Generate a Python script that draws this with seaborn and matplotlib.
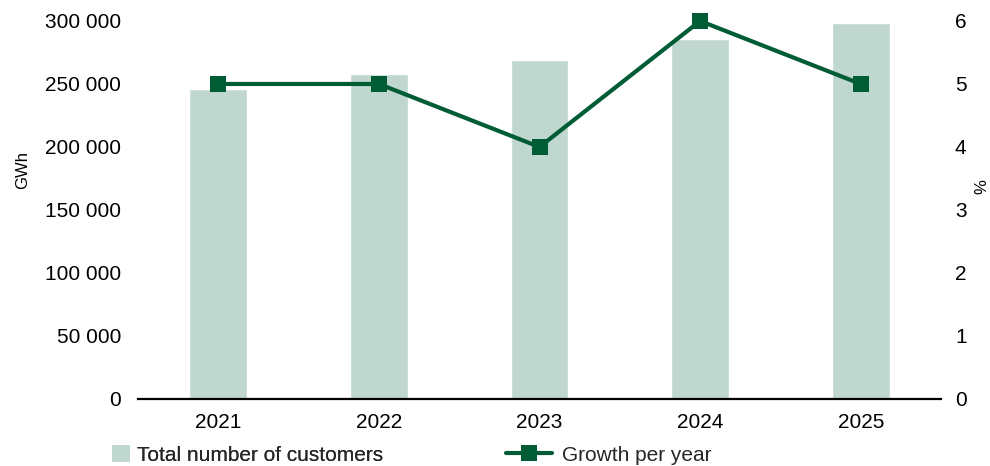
import matplotlib
matplotlib.use("Agg")
import matplotlib.pyplot as plt
import matplotlib.ticker as mticker
from matplotlib.patches import Patch
from matplotlib.lines import Line2D
import numpy as np
import pandas as pd
import seaborn as sns

years = [2021, 2022, 2023, 2024, 2025]
customers = [246000, 258000, 269000, 285500, 298000]
growth = [5, 5, 4, 6, 5]
left_ticks = [0, 50000, 100000, 150000, 200000, 250000, 300000]
right_ticks = [0, 1, 2, 3, 4, 5, 6]

bar_color = "#BFD7CE"
line_color = "#005C35"
fs = 15
title_fs = 12

sns.set_theme(style="white")
plt.rcParams["font.family"] = ["Liberation Sans", "DejaVu Sans"]

df = pd.DataFrame({"year": years, "customers": customers, "growth": growth})

fig = plt.figure(figsize=(9.9, 4.66), dpi=100)
ax = fig.add_axes([0.1394, 0.1438, 0.8111, 0.8112])

sns.barplot(data=df, x="year", y="customers", native_scale=True, width=0.36,
            color=bar_color, saturation=1, ax=ax)
ax.set_xlim(2020.5, 2025.5)
ax.set_ylim(0, 300000)
ax.set_yticks(left_ticks)
ax.yaxis.set_major_formatter(mticker.FuncFormatter(
    lambda v, p: f"{int(v):,}".replace(",", " ")))
ax.set_xticks(years)
ax.set_xticklabels([str(y) for y in years])
ax.tick_params(axis="both", length=0, labelsize=fs, colors="black")
ax.tick_params(axis="y", pad=12)
ax.tick_params(axis="x", pad=10)
ax.set_xlabel("")
ax.set_ylabel("GWh", fontsize=title_fs, color="black")
ax.yaxis.set_label_coords(-0.1345, 0.606)
for side in ["left", "right", "top"]:
    ax.spines[side].set_visible(False)
ax.spines["bottom"].set_color("black")
ax.spines["bottom"].set_linewidth(1.6)

ax2 = ax.twinx()
sns.lineplot(data=df, x="year", y="growth", ax=ax2, color=line_color,
             linewidth=3, marker="s", markersize=12, markeredgewidth=0,
             markerfacecolor=line_color, clip_on=False)
ax2.set_ylim(0, 6)
ax2.set_yticks(right_ticks)
ax2.tick_params(axis="y", length=0, labelsize=fs, colors="black", pad=10)
ax2.set_ylabel("%", fontsize=title_fs, color="black")
ax2.yaxis.set_label_coords(1.041, 0.561)
ax2.set_xlabel("")
for side in ["left", "right", "top", "bottom"]:
    ax2.spines[side].set_visible(False)
ax2.set_xlim(2020.5, 2025.5)

leg1 = fig.legend(handles=[Patch(facecolor=bar_color, edgecolor="none",
                                 label="Total number of customers")],
                  loc="center left", bbox_to_anchor=(0.113, 0.023),
                  frameon=False, fontsize=fs, borderpad=0, borderaxespad=0,
                  handlelength=0.87, handleheight=0.87, handletextpad=0.34)
leg2 = fig.legend(handles=[Line2D([0], [0], color=line_color, linewidth=3,
                                  marker="s", markersize=12, markeredgewidth=0,
                                  label="Growth per year")],
                  loc="center left", bbox_to_anchor=(0.511, 0.023),
                  frameon=False, fontsize=fs, borderpad=0, borderaxespad=0,
                  handlelength=2.2, handletextpad=0.5)
fig.add_artist(leg1)

fig.savefig("out.png", dpi=100)
